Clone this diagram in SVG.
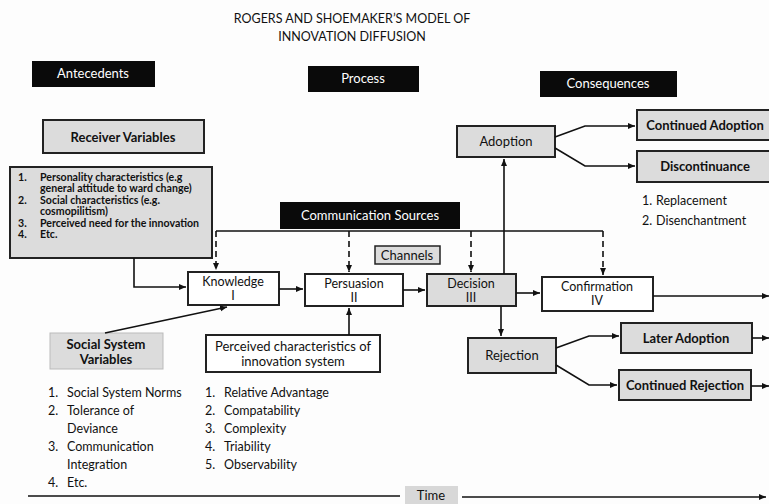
<svg xmlns="http://www.w3.org/2000/svg" width="769" height="504" viewBox="0 0 769 504">
<defs>
<marker id="ah" markerWidth="8" markerHeight="8" refX="7" refY="4" orient="auto" markerUnits="userSpaceOnUse">
<path d="M0,1 L7,4 L0,7 Z" fill="#111"/>
</marker>
</defs>
<style>
text{font-family:Lato,"Liberation Sans",sans-serif;fill:#111}
.blk{fill:#0a0a0a}
.wt{fill:#fff;font-size:13px}
.g{fill:#dcdcdc;stroke:#222;stroke-width:2}
.w{fill:#fff;stroke:#222;stroke-width:2}
.c{font-size:13px;text-anchor:middle}
.c2{font-size:12.5px;text-anchor:middle}
.b{font-weight:bold}
.l{font-size:12.5px}
.s{font-size:10.6px;font-weight:bold}
.ln{fill:none;stroke:#111;stroke-width:1.6}
.d{fill:none;stroke:#111;stroke-width:1.6;stroke-dasharray:6,4}
</style>
<rect width="769" height="504" fill="#fdfdfd"/>
<g id="title">
<text x="352" y="23" class="c" style="font-size:12.5px">ROGERS AND SHOEMAKER’S MODEL OF</text>
<text x="352" y="41" class="c" style="font-size:12.5px">INNOVATION DIFFUSION</text>
</g>
<g id="antecedents"><rect x="32" y="61" width="123" height="26" class="blk"/><text x="93" y="78" class="c wt">Antecedents</text></g>
<g id="process"><rect x="308" y="66" width="111" height="26" class="blk"/><text x="363" y="83" class="c wt">Process</text></g>
<g id="consequences"><rect x="540" y="71" width="137" height="26" class="blk"/><text x="608" y="88" class="c wt">Consequences</text></g>
<g id="receiver"><rect x="43" y="120" width="161" height="33" class="g"/><text x="123" y="142" class="c b">Receiver Variables</text></g>
<g id="receiver-list"><rect x="10" y="167" width="202" height="91" class="g"/>
<text class="s"><tspan x="18" y="181">1.</tspan><tspan x="18" y="204">2.</tspan><tspan x="18" y="227">3.</tspan><tspan x="18" y="238">4.</tspan></text>
<text class="s"><tspan x="40" y="181">Personality characteristics (e.g</tspan><tspan x="40" y="192">general attitude to ward change)</tspan><tspan x="40" y="204">Social characteristics (e.g.</tspan><tspan x="40" y="215">cosmopilitism)</tspan><tspan x="40" y="227">Perceived need for the innovation</tspan><tspan x="40" y="238">Etc.</tspan></text>
</g>
<g id="comm-sources"><rect x="280" y="202" width="180" height="27" class="blk"/><text x="370" y="220" class="c wt">Communication Sources</text></g>
<g id="channels"><rect x="375" y="246" width="65" height="18" class="g" style="stroke-width:1.5"/><text x="407" y="260" class="c">Channels</text></g>
<g id="knowledge"><rect x="188" y="272" width="91" height="33" class="w"/><text x="233" y="286" class="c2">Knowledge</text><text x="233" y="300" class="c2">I</text></g>
<g id="persuasion"><rect x="305" y="274" width="98" height="32" class="w"/><text x="354" y="288" class="c2">Persuasion</text><text x="354" y="302" class="c2">II</text></g>
<g id="decision"><rect x="427" y="274" width="89" height="32" class="g"/><text x="471" y="288" class="c2">Decision</text><text x="471" y="302" class="c2">III</text></g>
<g id="confirmation"><rect x="542" y="277" width="111" height="34" class="w"/><text x="597" y="291" class="c2">Confirmation</text><text x="597" y="305" class="c2">IV</text></g>
<g id="adoption"><rect x="457" y="126" width="98" height="31" class="g"/><text x="506" y="146" class="c">Adoption</text></g>
<g id="continued-adoption"><rect x="637" y="110" width="135" height="30" class="g"/><text x="705" y="130" class="c b">Continued Adoption</text></g>
<g id="discontinuance"><rect x="637" y="151" width="135" height="31" class="g"/><text x="705" y="171" class="c b">Discontinuance</text></g>
<g id="disc-list"><text class="l"><tspan x="642" y="205">1.</tspan><tspan x="656" y="205">Replacement</tspan><tspan x="642" y="225">2.</tspan><tspan x="656" y="225">Disenchantment</tspan></text></g>
<g id="rejection"><rect x="468" y="338" width="88" height="35" class="g"/><text x="512" y="360" class="c">Rejection</text></g>
<g id="later-adoption"><rect x="621" y="323" width="131" height="30" class="g"/><text x="686" y="343" class="c b">Later Adoption</text></g>
<g id="continued-rejection"><rect x="619" y="370" width="132" height="30" class="g"/><text x="685" y="390" class="c b">Continued Rejection</text></g>
<g id="social-system"><rect x="50" y="333" width="113" height="36" class="g" style="stroke:#bbb;stroke-width:1"/><text x="106" y="349" class="c b">Social System</text><text x="106" y="364" class="c b">Variables</text></g>
<g id="perceived"><rect x="206" y="335" width="174" height="37" class="w"/><text x="293" y="351" class="c">Perceived characteristics of</text><text x="293" y="366" class="c">innovation system</text></g>
<g id="social-list"><text class="l"><tspan x="48" y="397">1.</tspan><tspan x="67" y="397">Social System Norms</tspan><tspan x="48" y="415">2.</tspan><tspan x="67" y="415">Tolerance of</tspan><tspan x="67" y="433">Deviance</tspan><tspan x="48" y="451">3.</tspan><tspan x="67" y="451">Communication</tspan><tspan x="67" y="469">Integration</tspan><tspan x="48" y="487">4.</tspan><tspan x="67" y="487">Etc.</tspan></text></g>
<g id="perceived-list"><text class="l"><tspan x="205" y="397">1.</tspan><tspan x="224" y="397">Relative Advantage</tspan><tspan x="205" y="415">2.</tspan><tspan x="224" y="415">Compatability</tspan><tspan x="205" y="433">3.</tspan><tspan x="224" y="433">Complexity</tspan><tspan x="205" y="451">4.</tspan><tspan x="224" y="451">Triability</tspan><tspan x="205" y="469">5.</tspan><tspan x="224" y="469">Observability</tspan></text></g>
<g id="time"><rect x="405" y="486" width="53" height="20" fill="#d8d8d8"/><text x="431" y="500" class="c">Time</text></g>
<g id="connectors">
<path class="ln" d="M216,231 H603"/>
<path class="d" d="M216,231 V270" marker-end="url(#ah)"/>
<path class="d" d="M349,231 V272" marker-end="url(#ah)"/>
<path class="d" d="M471,231 V272" marker-end="url(#ah)"/>
<path class="d" d="M603,231 V275" marker-end="url(#ah)"/>
<path class="ln" d="M134,258 V287 H186" marker-end="url(#ah)"/>
<path class="ln" d="M105,333 L227,307" marker-end="url(#ah)"/>
<path class="ln" d="M279,289 H303" marker-end="url(#ah)"/>
<path class="ln" d="M403,290 H425" marker-end="url(#ah)"/>
<path class="ln" d="M349,335 V308" marker-end="url(#ah)"/>
<path class="ln" d="M516,293 H540" marker-end="url(#ah)"/>
<path class="ln" d="M501,306 V336" marker-end="url(#ah)"/>
<path class="ln" d="M504,274 V159" marker-end="url(#ah)"/>
<path class="ln" d="M555,137 L585,126 H635" marker-end="url(#ah)"/>
<path class="ln" d="M555,148 L585,166 H635" marker-end="url(#ah)"/>
<path class="ln" d="M556,348 L589,336 H619" marker-end="url(#ah)"/>
<path class="ln" d="M556,365 L589,385 H617" marker-end="url(#ah)"/>
<path class="ln" d="M653,296 H769" marker-end="url(#ah)"/>
<path class="ln" d="M752,338 H769" marker-end="url(#ah)"/>
<path class="ln" d="M751,386 H769" marker-end="url(#ah)"/>
<path class="ln" d="M28,496 H400"/>
<path class="ln" d="M462,497 H766" marker-end="url(#ah)"/>
</g>
</svg>
